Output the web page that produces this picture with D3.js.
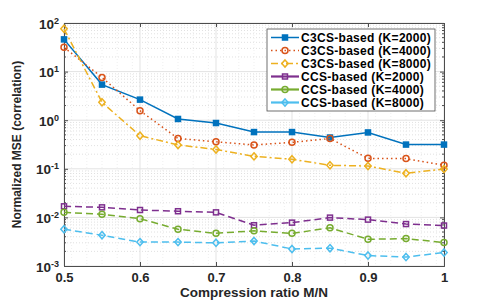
<!DOCTYPE html>
<html>
<head>
<meta charset="utf-8">
<script src="https://cdn.jsdelivr.net/npm/d3@7"></script>
<style>
  body { margin: 0; background: #fff; }
  text { font-family: "Liberation Sans", Arial, sans-serif; }
</style>
</head>
<body>
<div id="chart"></div>
<script>
// Data
var ratios = [0.5, 0.55, 0.6, 0.65, 0.7, 0.75, 0.8, 0.85, 0.9, 0.95, 1.0];

var c3csK2000 = [46, 5.4, 2.65, 1.06, 0.875, 0.57, 0.57, 0.44, 0.56, 0.315, 0.315];
var c3csK4000 = [31.6, 7.6, 1.57, 0.42, 0.36, 0.31, 0.35, 0.42, 0.164, 0.162, 0.118];
var c3csK8000 = [76, 2.33, 0.48, 0.31, 0.25, 0.18, 0.157, 0.118, 0.114, 0.081, 0.099];
var ccsK2000 = [0.0169, 0.0161, 0.0142, 0.0134, 0.0127, 0.0069, 0.0078, 0.0099, 0.009, 0.0073, 0.0068];
var ccsK4000 = [0.0127, 0.0116, 0.0094, 0.0057, 0.0047, 0.0053, 0.0047, 0.0061, 0.00355, 0.00366, 0.00303];
var ccsK8000 = [0.0057, 0.0043, 0.0031, 0.0031, 0.003, 0.00327, 0.00224, 0.00233, 0.00164, 0.00153, 0.00189];

var seriesNames = ["C3CS-based (K=2000)", "C3CS-based (K=4000)", "C3CS-based (K=8000)",
                   "CCS-based (K=2000)", "CCS-based (K=4000)", "CCS-based (K=8000)"];
var xTicks = [0.5, 0.6, 0.7, 0.8, 0.9, 1];
var yExponents = [-3, -2, -1, 0, 1, 2];

var series = [
  { name: seriesNames[0], values: c3csK2000, color: "#0072BD", dash: null,      marker: "square",  filled: true },
  { name: seriesNames[1], values: c3csK4000, color: "#D95319", dash: "1.5,3",   marker: "circle",  filled: false },
  { name: seriesNames[2], values: c3csK8000, color: "#EDB120", dash: "7,3,2,3", marker: "diamond", filled: false },
  { name: seriesNames[3], values: ccsK2000,  color: "#7E2F8E", dash: "7,4",     marker: "square",  filled: false },
  { name: seriesNames[4], values: ccsK4000,  color: "#77AC30", dash: "7,4",     marker: "circle",  filled: false },
  { name: seriesNames[5], values: ccsK8000,  color: "#4DBEEE", dash: "7,4",     marker: "diamond", filled: false }
];

var svgWidth = 491;
var svgHeight = 300;
var margin = { top: 23, right: 47, bottom: 34, left: 64 };
var width = svgWidth - margin.left - margin.right;
var height = svgHeight - margin.top - margin.bottom;

var svg = d3.select("#chart")
  .append("svg")
  .attr("width", svgWidth)
  .attr("height", svgHeight);

var chartGroup = svg.append("g")
  .attr("transform", `translate(${margin.left}, ${margin.top})`);

var xScale = d3.scaleLinear().domain([0.5, 1]).range([0, width]);
var yScale = d3.scaleLog().domain([1e-3, 1e2]).range([height, 0]);

// Minor grid (dotted)
var minorVals = [];
for (var e = -3; e < 2; e++) {
  for (var m = 2; m <= 9; m++) minorVals.push(m * Math.pow(10, e));
}
chartGroup.append("g")
  .selectAll("line")
  .data(minorVals)
  .enter()
  .append("line")
  .attr("x1", 0).attr("x2", width)
  .attr("y1", d => yScale(d)).attr("y2", d => yScale(d))
  .attr("stroke", "#d8d8d8")
  .attr("stroke-width", 0.8)
  .attr("stroke-dasharray", "1,2");

chartGroup.append("g")
  .selectAll("line")
  .data(d3.range(0.51, 1.0, 0.02))
  .enter()
  .append("line")
  .attr("y1", 0).attr("y2", height)
  .attr("x1", d => xScale(d)).attr("x2", d => xScale(d))
  .attr("stroke", "#e4e4e4")
  .attr("stroke-width", 0.6)
  .attr("stroke-dasharray", "1,2");

// Major grid
chartGroup.append("g")
  .selectAll("line")
  .data(yExponents)
  .enter()
  .append("line")
  .attr("x1", 0).attr("x2", width)
  .attr("y1", d => yScale(Math.pow(10, d))).attr("y2", d => yScale(Math.pow(10, d)))
  .attr("stroke", "#e3e3e3")
  .attr("stroke-width", 1);

chartGroup.append("g")
  .selectAll("line")
  .data(xTicks)
  .enter()
  .append("line")
  .attr("y1", 0).attr("y2", height)
  .attr("x1", d => xScale(d)).attr("x2", d => xScale(d))
  .attr("stroke", "#e3e3e3")
  .attr("stroke-width", 1);

// Axes
var bottomAxis = d3.axisBottom(xScale).tickValues(xTicks).tickSize(-4).tickFormat(d3.format("~g"));
var topAxis = d3.axisTop(xScale).tickValues(xTicks).tickSize(-4).tickFormat("");
var leftAxis = d3.axisLeft(yScale).tickValues(yExponents.map(d => Math.pow(10, d))).tickSize(-4).tickFormat("");
var rightAxis = d3.axisRight(yScale).tickValues(yExponents.map(d => Math.pow(10, d))).tickSize(-4).tickFormat("");

function styleAxis(g) {
  g.selectAll("path").attr("stroke", "#4d4d4d").attr("stroke-width", 1);
  g.selectAll("line").attr("stroke", "#4d4d4d");
}

chartGroup.append("g")
  .attr("transform", `translate(0, ${height})`)
  .call(bottomAxis)
  .call(styleAxis)
  .call(g => g.selectAll("text")
    .attr("y", 7)
    .attr("dy", "0.71em")
    .style("font-size", "13px")
    .style("font-weight", "bold")
    .attr("fill", "#262626"));

chartGroup.append("g").call(topAxis).call(styleAxis);
chartGroup.append("g").call(leftAxis).call(styleAxis);
chartGroup.append("g").attr("transform", `translate(${width}, 0)`).call(rightAxis).call(styleAxis);

// Minor ticks on y
chartGroup.append("g")
  .selectAll("line")
  .data(minorVals)
  .enter()
  .append("line")
  .attr("x1", 0).attr("x2", 2)
  .attr("y1", d => yScale(d)).attr("y2", d => yScale(d))
  .attr("stroke", "#4d4d4d");
chartGroup.append("g")
  .selectAll("line")
  .data(minorVals)
  .enter()
  .append("line")
  .attr("x1", width - 2).attr("x2", width)
  .attr("y1", d => yScale(d)).attr("y2", d => yScale(d))
  .attr("stroke", "#4d4d4d");

// y tick labels 10^n
var yLabels = chartGroup.append("g")
  .selectAll("text")
  .data(yExponents)
  .enter()
  .append("text")
  .attr("x", -5)
  .attr("y", d => yScale(Math.pow(10, d)) + 5.5)
  .attr("text-anchor", "end")
  .attr("fill", "#262626")
  .style("font-size", "13.5px")
  .style("font-weight", "bold");
yLabels.append("tspan").text("10");
yLabels.append("tspan")
  .attr("dy", "-0.55em")
  .style("font-size", "9px")
  .text(d => d);

// Lines
var line = d3.line()
  .x((d, i) => xScale(ratios[i]))
  .y(d => yScale(d));

function drawMarker(g, s) {
  if (s.marker === "square") {
    g.append("rect").attr("x", -2.5).attr("y", -2.5).attr("width", 5).attr("height", 5);
  } else if (s.marker === "circle") {
    g.append("circle").attr("r", 3);
  } else {
    g.append("path").attr("d", "M0,-3.6L3.2,0L0,3.6L-3.2,0Z");
  }
  g.selectAll("*")
    .attr("fill", s.filled ? s.color : "none")
    .attr("stroke", s.color)
    .attr("stroke-width", 1.5);
}

series.forEach(function(s) {
  chartGroup.append("path")
    .datum(s.values)
    .attr("d", line)
    .attr("fill", "none")
    .attr("stroke", s.color)
    .attr("stroke-width", 1.5)
    .attr("stroke-dasharray", s.dash);

  chartGroup.append("g")
    .selectAll("g")
    .data(s.values)
    .enter()
    .append("g")
    .attr("transform", (d, i) => `translate(${xScale(ratios[i])}, ${yScale(d)})`)
    .each(function() { drawMarker(d3.select(this), s); });
});

// Legend
var legend = svg.append("g").attr("transform", "translate(267, 29)");
legend.append("rect")
  .attr("width", 168)
  .attr("height", 82)
  .attr("fill", "#fff")
  .attr("stroke", "#4d4d4d")
  .attr("stroke-width", 0.8);

series.forEach(function(s, i) {
  var row = legend.append("g").attr("transform", `translate(0, ${8.5 + i * 13})`);
  row.append("line")
    .attr("x1", 4).attr("x2", 32)
    .attr("stroke", s.color)
    .attr("stroke-width", i >= 3 ? 2.2 : 1.5)
    .attr("stroke-dasharray", i >= 3 ? null : s.dash);
  var mk = row.append("g").attr("transform", "translate(18, 0)");
  drawMarker(mk, s);
  row.append("text")
    .attr("x", 34)
    .attr("y", 4.5)
    .attr("fill", "#000")
    .style("font-size", "12px")
    .style("letter-spacing", "0.3px")
    .style("font-weight", "bold")
    .text(s.name);
});

// Axis labels
chartGroup.append("text")
  .attr("x", width / 2)
  .attr("y", height + 31)
  .attr("text-anchor", "middle")
  .attr("fill", "#262626")
  .style("font-size", "13.5px")
  .style("font-weight", "bold")
  .text("Compression ratio M/N");

chartGroup.append("text")
  .attr("transform", "rotate(-90)")
  .attr("x", -height / 2)
  .attr("y", -margin.left + 21)
  .attr("text-anchor", "middle")
  .attr("fill", "#262626")
  .style("font-size", "12px")
  .style("font-weight", "bold")
  .text("Normalized MSE (correlation)");
</script>
</body>
</html>
